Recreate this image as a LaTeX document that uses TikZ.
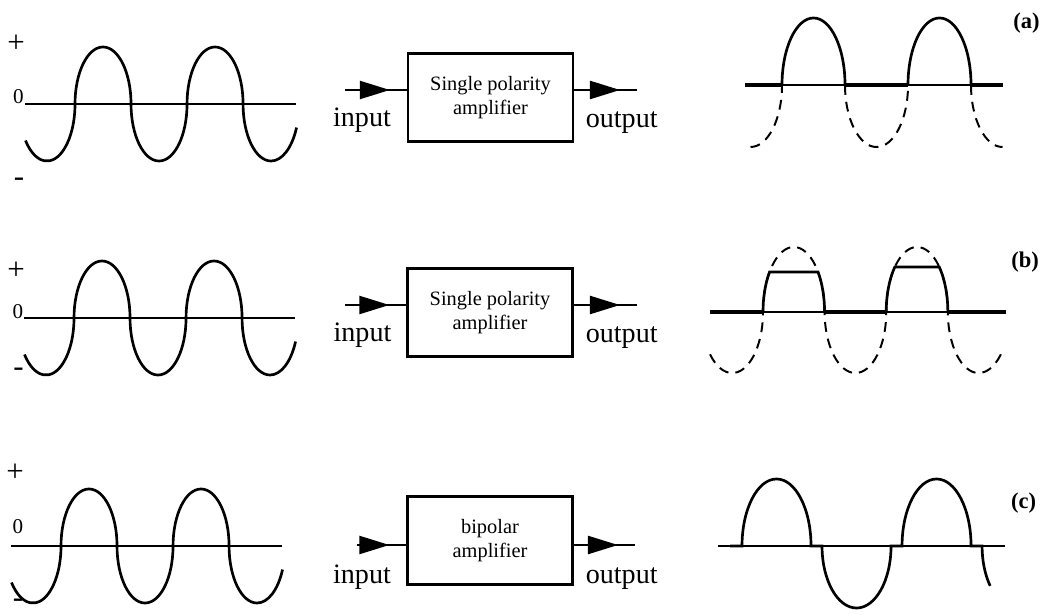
\documentclass[tikz,border=0pt]{standalone}
\usepackage{fontspec}
\setmainfont{Liberation Serif}
\usetikzlibrary{arrows.meta,decorations.markings}

\begin{document}
\begin{tikzpicture}[x=0.025cm, y=-0.025cm,
      wave/.style={line width=1.9pt},
      axis/.style={line width=1pt},
      zero/.style={line width=2.8pt},
      clipped/.style={line width=1.4pt, dash pattern=on 7pt off 5pt},
      inarc/.style={x radius=0.7cm, y radius=1.425cm},
      ahi/.style={x radius=0.7875cm, y radius=1.675cm},
      alo/.style={x radius=0.7875cm, y radius=1.55cm},
      bhi/.style={x radius=0.77cm, y radius=1.625cm},
      blo/.style={x radius=0.77cm, y radius=1.525cm},
      chi/.style={x radius=0.8625cm, y radius=1.675cm},
      clo/.style={x radius=0.8625cm, y radius=1.55cm},
      ampbox/.style={draw, line width=1.6pt, minimum width=4.125cm,
                     minimum height=2.2cm, align=center,
                     font=\fontsize{14.5}{17}\selectfont},
      io/.style={font=\fontsize{20}{24}\selectfont, anchor=base},
      pol/.style={font=\fontsize{22}{24}\selectfont},
      nought/.style={font=\fontsize{15}{17}\selectfont},
      tag/.style={font=\bfseries\fontsize{16}{19}\selectfont},
      sig/.style={line width=1.6pt, postaction={decorate},
                  decoration={markings, mark=at position -0.425cm with
                    {\arrow{Triangle[length=0.75cm, width=0.45cm]}}}}]
    \useasboundingbox (0,0) rectangle (1049,615);
    % ----- input waves (same shape in all three rows)
    \foreach \sx/\sy [count=\r] in {75/104, 74/318, 61/546} {
      \begin{scope}[shift={(\sx,\sy)}]
        \ifnum\r=3
          \draw[wave] (-50,0) -- (221,0);
        \else
          \draw[axis] (-50,0) -- (221,0);
        \fi
        \draw[wave] ([shift={(219.8:0.7cm and 1.425cm)}]-28,0)
          arc[start angle=219.8, end angle=360, inarc]
          arc[start angle=180, end angle=0, inarc]
          arc[start angle=180, end angle=360, inarc]
          arc[start angle=180, end angle=0, inarc]
          arc[start angle=180, end angle=335.6, inarc];
      \end{scope}
    }
    \node[pol] (pa) at (16,43.5) {+};
    \node[nought] (za) at (18.5,97) {0};
    \node[pol] (ma) at (19,182) {-};
    \node[pol] (pb) at (16,271) {+};
    \node[nought] (zb) at (18,312) {0};
    \node[pol] (mb) at (18.5,372) {-};
    \node[pol] (pc) at (15,473) {+};
    \node[nought] (zc) at (18,527) {0};
    \node[pol] (mc) at (18,603) {-};
    % ----- amplifier blocks
    \node[ampbox] (ampa) at (490.5,97.5) {Single polarity\\amplifier};
    \node[ampbox] (ampb) at (490,312.5) {Single polarity\\amplifier};
    \node[ampbox] (ampc) at (490,540.5) {bipolar\\amplifier};
    \coordinate (ina) at (345,90);
    \coordinate (outa) at (637,90);
    \coordinate (inb) at (345,305);
    \coordinate (outb) at (637,305);
    \coordinate (inc) at (357,545);
    \coordinate (outc) at (635,545);
    \draw[sig] (ina) -- (ina -| ampa.west);
    \draw[sig] (outa -| ampa.east) -- (outa);
    \draw[sig] (inb) -- (inb -| ampb.west);
    \draw[sig] (outb -| ampb.east) -- (outb);
    \draw[sig] (inc) -- (inc -| ampc.west);
    \draw[sig] (outc -| ampc.east) -- (outc);
    \node[io] (ia) at (362,127) {input};
    \node[io] (oa) at (621.7,128) {output};
    \node[io] (ib) at (362.5,342) {input};
    \node[io] (ob) at (621.7,343) {output};
    \node[io] (ic) at (362,583) {input};
    \node[io] (oc) at (621.7,583) {output};
    % ----- output (a): negative half cut off
    \draw[axis] (745,85) -- (1003,85);
    \draw[zero] (745,85) -- (782,85) (845,85) -- (908,85) (971,85) -- (1003,85);
    \draw[clipped] (750.5,147) arc[start angle=270, end angle=360, alo]
      (845,85) arc[start angle=180, end angle=360, alo]
      (971,85) arc[start angle=180, end angle=270, alo];
    \draw[wave] (782,85) arc[start angle=180, end angle=0, ahi]
      (908,85) arc[start angle=180, end angle=0, ahi];
    \node[tag] (ta) at (1026.5,23) {(a)};
    % ----- output (b): negative half cut off, peaks flattened
    \draw[axis] (710,312) -- (1006,312);
    \draw[zero] (710,312) -- (763,312) (824.6,312) -- (886.2,312)
      (947.8,312) -- (1006,312);
    \draw[clipped] ([shift={(223.9:0.77cm and 1.525cm)}]732.2,312)
      arc[start angle=223.9, end angle=360, blo]
      arc[start angle=180, end angle=0, bhi]
      arc[start angle=180, end angle=360, blo]
      arc[start angle=180, end angle=0, bhi]
      arc[start angle=180, end angle=322.4, blo];
    \draw[wave] (763,312) arc[start angle=180, end angle=142, bhi]
      -- ++(48.5,0) arc[start angle=38, end angle=0, bhi]
      (886.2,312) arc[start angle=180, end angle=136.2, bhi]
      -- ++(44.5,0) arc[start angle=43.8, end angle=0, bhi];
    \node[tag] (tb) at (1025,262.5) {(b)};
    % ----- output (c): both halves, dead band at zero
    \draw[axis] (718,546) -- (1005,546);
    \draw[wave] (730,546) -- (742,546) arc[start angle=180, end angle=0, chi]
      -- ++(11,0) arc[start angle=180, end angle=360, clo]
      -- ++(11,0) arc[start angle=180, end angle=0, chi]
      -- ++(11,0) arc[start angle=180, end angle=220, clo];
    \node[tag] (tc) at (1023.5,503.5) {(c)};
  \end{tikzpicture}
\end{document}
